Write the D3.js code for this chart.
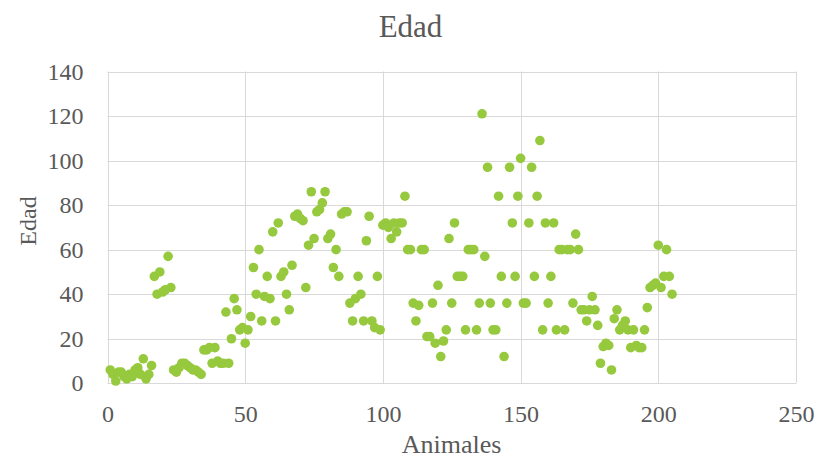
<!DOCTYPE html>
<html><head><meta charset="utf-8">
<script src="https://cdn.jsdelivr.net/npm/d3@7"></script>
<style>body{margin:0;background:#fff}</style>
</head><body>
<svg id="c" width="819" height="459"></svg>
<script>
const title = "Edad";
const xTitle = "Animales";
const yTitle = "Edad";
const xTicks = [0, 50, 100, 150, 200, 250];
const yTicks = [0, 20, 40, 60, 80, 100, 120, 140];
const edad = [
 6,4,1,5,5,3,2,4,3,6,7,4,11,2,4,8,
 48,40,50,41,42,57,43,
 6,5,7,9,9,8,7,6,6,5,4,15,15,16,9,16,10,9,9,
 32,9,20,38,33,24,25,18,24,30,52,40,60,28,39,48,38,68,28,72,48,50,40,33,
 53,75,76,74,73,43,62,86,65,77,78,81,86,65,67,52,60,48,76,77,77,36,28,38,48,40,28,64,75,28,25,48,24,
 71,72,70,65,72,68,72,72,84,60,60,
 36,28,35,60,60,21,21,36,18,44,12,19,24,65,36,72,48,48,48,24,
 60,60,60,24,36,121,57,97,36,24,24,84,48,12,36,97,72,48,84,101,
 36,36,72,97,48,84,109,24,72,36,48,72,24,60,60,24,60,60,36,67,
 60,33,33,28,33,39,33,26,9,16.5,18,17,6,29,33,24,26,28,24,16,
 24,17,16,16,24,34,43,44,45,62,43,48,60,48,40
];
const animales = edad.map((d, i) => i + 1);
const data = animales.map((a, i) => ({x: a, y: edad[i]}));

const svg = d3.select("#c");
const L = 107.5, R = 796, T = 71.5, B = 383.3;
const x = d3.scaleLinear().domain([0, 250]).range([L, R]);
const y = d3.scaleLinear().domain([0, 140]).range([B, T]);
const font = "'Liberation Serif','Times New Roman',serif";
const txt = "#595959";

// gridlines
svg.append("g").selectAll("line.h").data(yTicks).join("line")
  .attr("x1", L).attr("x2", R).attr("y1", d => Math.round(y(d)) + 0.5).attr("y2", d => Math.round(y(d)) + 0.5)
  .attr("stroke", "#d9d9d9").attr("stroke-width", 1);
svg.append("g").selectAll("line.v").data(xTicks).join("line")
  .attr("y1", T).attr("y2", B).attr("x1", d => Math.round(x(d)) + 0.5).attr("x2", d => Math.round(x(d)) + 0.5)
  .attr("stroke", "#d9d9d9").attr("stroke-width", 1);

// axes labels via d3 axes
const ay = svg.append("g").attr("transform", `translate(${L},0)`)
  .call(d3.axisLeft(y).tickValues(yTicks).tickSize(0).tickPadding(24));
const ax = svg.append("g").attr("transform", `translate(0,${B})`)
  .call(d3.axisBottom(x).tickValues(xTicks).tickSize(0).tickPadding(22));
[ax, ay].forEach(g => {
  g.select(".domain").remove();
  g.selectAll("text").attr("font-family", font).attr("font-size", 24).attr("fill", txt);
});

// points
svg.append("g").selectAll("circle").data(data).join("circle")
  .attr("cx", d => x(d.x)).attr("cy", d => y(d.y)).attr("r", 4.8)
  .attr("fill", "#96c93d");

svg.append("text").attr("x", 410.5).attr("y", 36.5).attr("text-anchor", "middle")
  .attr("font-family", font).attr("font-size", 31).attr("fill", txt).text(title);
svg.append("text").attr("x", 451.5).attr("y", 453).attr("text-anchor", "middle")
  .attr("font-family", font).attr("font-size", 26).attr("fill", txt).text(xTitle);
svg.append("text").attr("transform", "translate(36,221) rotate(-90)").attr("text-anchor", "middle")
  .attr("font-family", font).attr("font-size", 24).attr("fill", txt).text(yTitle);
</script>
</body></html>
